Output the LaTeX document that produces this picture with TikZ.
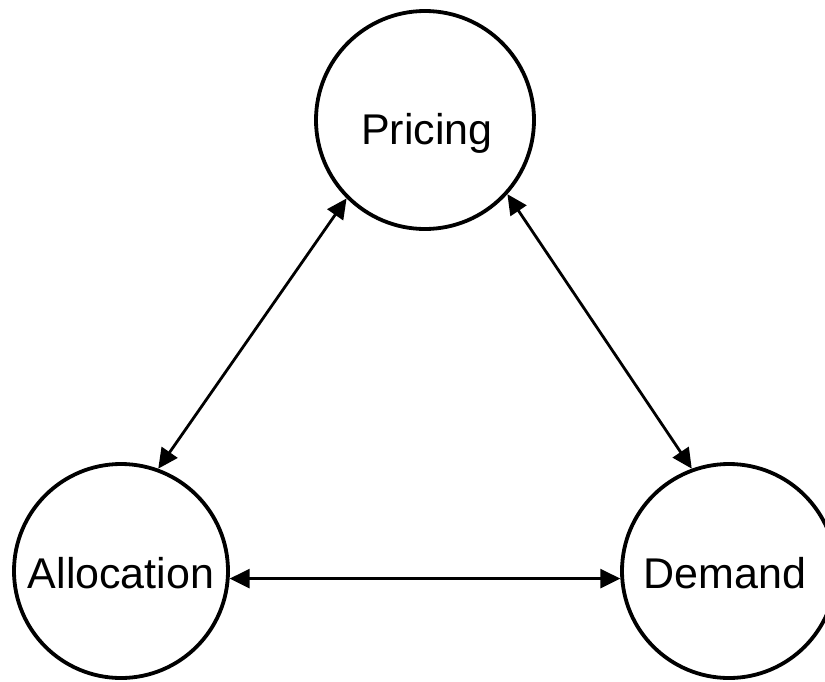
\documentclass[tikz,border=0pt]{standalone}
\usepackage{fontspec}
\setmainfont{Liberation Sans}
\usetikzlibrary{arrows.meta}

\tikzset{
    hub/.style={circle, draw, line width=3.8pt, minimum size=214pt, inner sep=0pt},
    hublabel/.style={font=\fontsize{43}{50}\selectfont, inner sep=0pt},
    link/.style={line width=2.8pt, {Triangle[length=20pt,width=19pt]}-{Triangle[length=20pt,width=19pt]}}
}

\begin{document}
\begin{tikzpicture}[x=1pt, y=-1pt]
    % Canvas
    \useasboundingbox (0,0) rectangle (825,681);

    % Circles
    \node[hub, minimum size=218pt] (pricing) at (425,120) {};
    \node[hub] (allocation) at (121,571) {};
    \node[hub] (demand) at (729,571) {};

    % Labels
    \node[hublabel, text depth=0pt] (pricingtxt) at (427,129) {Pricing};
    \node[hublabel, text depth=0pt] (allocationtxt) at (121,573) {Allocation};
    \node[hublabel, text depth=0pt] (demandtxt) at (725,573) {Demand};

    % Connectors
    \draw[link] (pricing.225) -- (allocation.70);
    \draw[link] (pricing.318) -- (demand.110);
    \draw[link] (allocation.-4) -- (demand.184);
\end{tikzpicture}
\end{document}
